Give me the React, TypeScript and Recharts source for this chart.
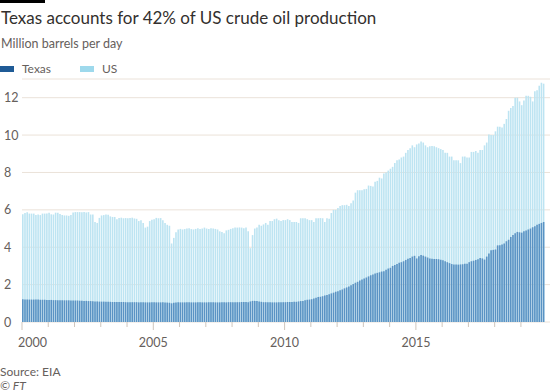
import React from "react";
import { BarChart, Bar, XAxis, YAxis, CartesianGrid } from "recharts";

// Monthly crude oil production, million barrels per day (Jan 2000 - Nov 2019)
const years = [2000, 2001, 2002, 2003, 2004, 2005, 2006, 2007, 2008, 2009, 2010, 2011, 2012, 2013, 2014, 2015, 2016, 2017, 2018, 2019];

const usValues = [
  5.76, 5.83, 5.87, 5.8, 5.8, 5.8, 5.72, 5.75, 5.72, 5.8, 5.8, 5.8,
  5.85, 5.76, 5.75, 5.85, 5.85, 5.78, 5.72, 5.7, 5.7, 5.68, 5.72, 5.86,
  5.88, 5.88, 5.88, 5.87, 5.88, 5.86, 5.88, 5.75, 5.75, 5.35, 5.3, 5.57,
  5.7, 5.72, 5.75, 5.74, 5.65, 5.62, 5.62, 5.5, 5.56, 5.58, 5.55, 5.56,
  5.55, 5.56, 5.58, 5.54, 5.52, 5.4, 5.44, 5.3, 5.05, 5.1, 5.4, 5.47,
  5.5, 5.57, 5.55, 5.56, 5.45, 5.3, 5.2, 5.15, 4.2, 4.5, 4.8, 4.95,
  4.98, 4.95, 4.97, 5.0, 5.02, 4.97, 4.95, 4.98, 5.02, 4.97, 5.0, 5.05,
  5.0, 4.98, 5.02, 5.0, 4.98, 4.95, 4.85, 4.82, 4.75, 4.9, 4.93, 4.98,
  5.02, 5.05, 5.05, 5.06, 5.05, 5.02, 5.05, 4.85, 3.95, 4.65, 5.0, 5.05,
  5.2, 5.15, 5.22, 5.3, 5.2, 5.4, 5.4, 5.5, 5.53, 5.45, 5.4, 5.45,
  5.45, 5.5, 5.45, 5.35, 5.35, 5.35, 5.3, 5.55, 5.55, 5.55, 5.5, 5.45,
  5.45, 5.35, 5.55, 5.55, 5.56, 5.55, 5.35, 5.55, 5.53, 5.83, 6.0, 6.0,
  6.1, 6.2, 6.25, 6.25, 6.27, 6.2, 6.35, 6.5, 6.92, 7.05, 7.05, 7.05,
  7.1, 7.12, 7.3, 7.28, 7.25, 7.5, 7.55, 7.72, 7.68, 7.95, 8.0, 8.1,
  8.2, 8.3, 8.5, 8.65, 8.7, 8.8, 8.85, 9.05, 9.2, 9.3, 9.45, 9.35,
  9.5, 9.55, 9.65, 9.6, 9.45, 9.35, 9.4, 9.42, 9.4, 9.35, 9.3, 9.25,
  9.2, 9.05, 9.05, 8.85, 8.85, 8.65, 8.65, 8.65, 8.5, 8.85, 8.85, 8.8,
  8.8, 9.1, 9.1, 9.15, 9.05, 9.2, 9.2, 9.45, 9.6, 10.03, 10.0, 10.0,
  10.2, 10.45, 10.45, 10.4, 10.6, 10.86, 11.3, 11.45, 11.55, 12.0, 12.0, 11.8,
  11.6, 11.85, 12.1, 12.1, 12.05, 11.8, 12.35, 12.4, 12.64, 12.8, 12.75,
];

const texasValues = [
  1.22, 1.21, 1.21, 1.2, 1.2, 1.2, 1.2, 1.2, 1.19, 1.19, 1.19, 1.18,
  1.18, 1.18, 1.17, 1.17, 1.17, 1.17, 1.17, 1.16, 1.16, 1.16, 1.15, 1.15,
  1.15, 1.15, 1.14, 1.14, 1.13, 1.13, 1.12, 1.12, 1.11, 1.1, 1.1, 1.09,
  1.09, 1.09, 1.08, 1.08, 1.08, 1.07, 1.07, 1.07, 1.07, 1.07, 1.07, 1.06,
  1.06, 1.06, 1.06, 1.06, 1.06, 1.05, 1.05, 1.05, 1.05, 1.05, 1.05, 1.05,
  1.05, 1.05, 1.05, 1.05, 1.05, 1.04, 1.04, 1.03, 1.0, 1.03, 1.04, 1.05,
  1.05, 1.05, 1.05, 1.05, 1.05, 1.05, 1.05, 1.05, 1.05, 1.05, 1.05, 1.05,
  1.05, 1.05, 1.05, 1.05, 1.05, 1.05, 1.05, 1.05, 1.05, 1.05, 1.06, 1.06,
  1.06, 1.06, 1.06, 1.06, 1.07, 1.07, 1.07, 1.06, 1.1, 1.13, 1.13, 1.12,
  1.1, 1.08, 1.06, 1.06, 1.06, 1.05, 1.05, 1.05, 1.05, 1.05, 1.06, 1.06,
  1.06, 1.07, 1.07, 1.07, 1.08, 1.08, 1.1, 1.12, 1.13, 1.16, 1.19, 1.2,
  1.22, 1.26, 1.3, 1.34, 1.35, 1.38, 1.42, 1.44, 1.48, 1.53, 1.57, 1.62,
  1.65, 1.7, 1.74, 1.8, 1.85, 1.9, 1.97, 2.03, 2.1, 2.15, 2.22, 2.28,
  2.33, 2.38, 2.44, 2.5, 2.54, 2.6, 2.63, 2.66, 2.7, 2.72, 2.8, 2.86,
  2.9, 3.0, 3.05, 3.1, 3.17, 3.2, 3.25, 3.32, 3.38, 3.43, 3.5, 3.54,
  3.4, 3.52, 3.58, 3.55, 3.5, 3.45, 3.4, 3.38, 3.37, 3.37, 3.36, 3.33,
  3.3, 3.25, 3.2, 3.15, 3.1, 3.08, 3.07, 3.07, 3.08, 3.09, 3.12, 3.12,
  3.2, 3.25, 3.28, 3.32, 3.36, 3.43, 3.4, 3.34, 3.5, 3.66, 3.84, 3.86,
  3.88, 4.1, 4.1, 4.14, 4.2, 4.32, 4.4, 4.55, 4.65, 4.75, 4.82, 4.8,
  4.78, 4.85, 4.9, 4.95, 5.0, 5.07, 5.12, 5.2, 5.25, 5.3, 5.35,
];

const yTicks = [0, 2, 4, 6, 8, 10, 12];

const data = usValues.map((us, i) => ({
  month: `${years[Math.floor(i / 12)]}-${String((i % 12) + 1).padStart(2, "0")}`,
  us,
  texas: texasValues[i],
}));
const januaries = years.map((y) => `${y}-01`);

const FONT = "Lato, 'Noto Sans', sans-serif";
const GREY = "#66605c";
const TEXAS = "#5a93c4";
const US = "#bde4f2";

const PLOT_LEFT = 22;
const PLOT_RIGHT = 550;
const PAD_RIGHT = 5;
const BAND = (PLOT_RIGHT - PLOT_LEFT - PAD_RIGHT) / data.length;

const YearTick = (props: any) => {
  const { x, payload } = props;
  const y = 322;
  const year = Number(String(payload.value).slice(0, 4));
  const left = x - BAND / 2;
  const major = year % 5 === 0;
  return (
    <g>
      <line x1={left} x2={left} y1={y} y2={y + (major ? 8 : 5)} stroke="#cfc6bd" strokeWidth={1} />
      {major && (
        <text
          x={year === 2000 ? left - 4 : left}
          y={y + 25}
          textAnchor={year === 2000 ? "start" : "middle"}
          fill={GREY}
          fontSize={12.5}
          fontFamily={FONT}
        >
          {year}
        </text>
      )}
    </g>
  );
};

const ValueTick = (props: any) => {
  const { y, payload } = props;
  return (
    <text x={4} y={y + 4.5} textAnchor="start" fill={GREY} fontSize={12.5} fontFamily={FONT}>
      {payload.value}
    </text>
  );
};

export default function App() {
  return (
    <div
      style={{
        position: "absolute",
        left: 0,
        top: 0,
        width: 550,
        height: 392,
        background: "#fff",
        fontFamily: FONT,
      }}
    >
      <div style={{ position: "absolute", left: 0, top: 0, width: 45, height: 3, background: "#000" }} />
      <div style={{ position: "absolute", left: 1, top: 7, fontSize: 17, color: "#33302e" }}>
        Texas accounts for 42% of US crude oil production
      </div>
      <div style={{ position: "absolute", left: 1, top: 36, fontSize: 12.5, color: GREY }}>
        Million barrels per day
      </div>
      <div style={{ position: "absolute", left: 0, top: 61, fontSize: 12, color: GREY, display: "flex", alignItems: "center" }}>
        <span style={{ width: 14, height: 6, background: "#1f5b96", display: "inline-block", marginRight: 8 }} />
        <span style={{ marginRight: 29 }}>Texas</span>
        <span style={{ width: 14, height: 6, background: "#9ed9ec", display: "inline-block", marginRight: 8 }} />
        <span>US</span>
      </div>
      <div style={{ position: "absolute", left: 0, top: 364, fontSize: 12, color: GREY }}>Source: EIA</div>
      <div style={{ position: "absolute", left: 0, top: 378, fontSize: 12, color: GREY, fontStyle: "italic" }}>© FT</div>

      <div style={{ position: "absolute", left: 0, top: 0 }}>
        <BarChart
          width={550}
          height={392}
          data={data}
          margin={{ top: 79, right: 0, bottom: 0, left: 0 }}
          barSize={1.6}
          barGap={-1.6}
        >
          <CartesianGrid vertical={false} stroke="#ebe2d9" />
          <XAxis
            dataKey="month"
            ticks={januaries}
            interval={0}
            tick={<YearTick />}
            tickLine={false}
            axisLine={false}
            padding={{ left: 0, right: PAD_RIGHT }}
            height={70}
          />
          <YAxis
            domain={[0, 13]}
            ticks={yTicks}
            tick={<ValueTick />}
            tickLine={false}
            axisLine={false}
            width={PLOT_LEFT}
          />
          <Bar dataKey="us" fill={US} isAnimationActive={false} />
          <Bar dataKey="texas" fill={TEXAS} isAnimationActive={false} />
        </BarChart>
      </div>
    </div>
  );
}
